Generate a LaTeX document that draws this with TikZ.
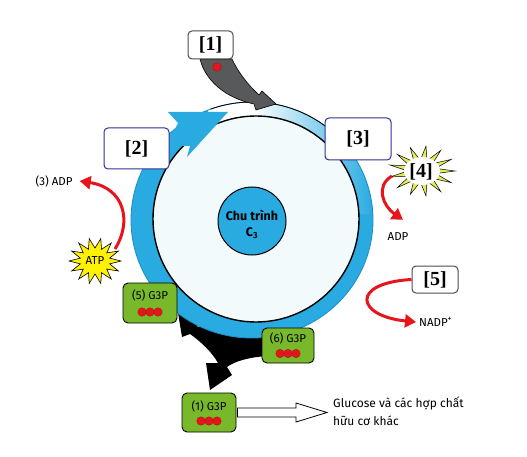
\documentclass[tikz,border=0pt]{standalone}
\usepackage{fontspec}
\setmainfont{Liberation Serif}
\newfontfamily\lblfont{Fira Sans}
\usetikzlibrary{arrows.meta,calc}
\definecolor{ringcyan}{HTML}{29ABE2}
\definecolor{ringedge}{HTML}{1C8CC4}
\definecolor{innerfill}{HTML}{F3FAFB}
\definecolor{gbox}{HTML}{78B82A}
\definecolor{rbord}{HTML}{2E3192}
\definecolor{arrred}{HTML}{E8141B}
\definecolor{grayarr}{HTML}{58595B}
\definecolor{staryel}{HTML}{FFF200}
\definecolor{starfour}{HTML}{E2EC5A}
\begin{document}
\begin{tikzpicture}[x=1pt,y=-1pt,
  lbl/.style={font=\lblfont\fontsize{11.5}{13}\selectfont, inner sep=0},
  numbox/.style={draw=#1, fill=white, rounded corners=4pt, line width=1pt, font=\bfseries\fontsize{20}{20}\selectfont, inner sep=0},
  g3p/.style={draw=black, fill=gbox, rounded corners=5pt, line width=0.9pt, inner sep=0},
  redarr/.style={draw=arrred, line width=3pt, -{Triangle[length=11pt, width=13pt]}},
  reddot/.style={circle, fill=arrred, draw=arrred!70!black, line width=0.3pt, minimum size=8.5pt, inner sep=0}
]
\useasboundingbox (0,0) rectangle (527,457);

% black product arrows (behind ring)
\fill[black] (282,333) -- (268,356) .. controls (250,357) and (235,361) .. (227,367) -- (232,375) -- (210,390) -- (206,363) -- (218,363) .. controls (212,352) and (200,341) .. (190,334) -- (182,337) -- (178,313) -- (200,323) -- (196,326) .. controls (225,334) and (255,334) .. (282,333) -- cycle;

% ring
\coordinate (O) at (252,220);
\coordinate (I) at (256,219);
\fill[ringcyan] (O) ellipse (121 and 118);
\begin{scope}
  \clip (O) -- ($(O)+(-112:180)$) -- ($(O)+(-90:180)$) -- ($(O)+(-45:180)$) -- ($(O)+(-3:180)$) -- cycle;
  \shade[left color=white, right color=ringcyan, middle color=white] (O) ellipse (121 and 118);
\end{scope}
\fill[innerfill] (I) circle (103);
\draw[ringedge, line width=0.8pt] (O) ellipse (121 and 118);
\draw[line width=0.8pt] ($(O)+(-110:121 and 118)$) arc[start angle=-110, end angle=-38, x radius=121, y radius=118];
\draw[line width=1.4pt] (I) circle (103);
\fill[ringcyan] (178,123) -- (168,112) -- (228,112) -- (187,157) -- (190,146) -- (180,146) -- (172,135) -- cycle;

% centre
\node[circle, draw, fill=ringcyan, line width=1pt, minimum size=68pt, inner sep=0] (core) at (252,221) {};
\node[font=\lblfont\bfseries\fontsize{12.5}{16}\selectfont, align=center, inner sep=0] (coretext) at (252,224) {Chu trình\\C\textsubscript{3}};

% CO2 input arrow [1]
\draw[fill=grayarr, line width=0.6pt] (200,59) .. controls (205,80) and (225,98) .. (254,104) -- (256,110) -- (276,104) -- (262,91) -- (259,95) .. controls (248,85) and (238,72) .. (232,59) -- cycle;
\node[reddot] (co2) at (217,67) {};

% number boxes
\node[numbox=gray!60!black, minimum width=45pt, minimum height=28pt] (b1) at (210.5,45) {[1]};
\node[numbox=rbord, minimum width=65pt, minimum height=41pt] (b2) at (136.5,148.5) {[2]};
\node[numbox=rbord, minimum width=66pt, minimum height=42pt] (b3) at (358,139) {[3]};
\node[numbox=gray!60!black, minimum width=46pt, minimum height=27pt] (b5) at (435,279.5) {[5]};

% star [4]
\coordinate (c4) at (422,171);
\draw[fill=starfour, line width=0.5pt] ($(c4)+(0:33 and 25)$) \foreach \i in {0,...,12} { -- ($(c4)+({\i*360/13+180/13}:14 and 11)$) -- ($(c4)+({(\i+1)*360/13}:33 and 25)$) } -- cycle;
\fill[white] (c4) ellipse (18 and 14);
\node[font=\bfseries\fontsize{20}{20}\selectfont, inner sep=0] (b4) at (421,172) {[4]};

% ATP star
\coordinate (catp) at (95,261);
\draw[fill=staryel, line width=0.6pt] ($(catp)+(0:26 and 23)$) \foreach \i in {0,...,13} { -- ($(catp)+({\i*360/14+180/14}:15 and 13)$) -- ($(catp)+({(\i+1)*360/14}:26 and 23)$) } -- cycle;
\node[lbl] (atp) at (catp) {ATP};

% G3P boxes
\node[g3p, minimum width=54pt, minimum height=40pt] (g5) at (150,303) {};
\node[lbl] (g5t) at ($(g5)+(0,-8)$) {(5) G3P};
\node[reddot] (g5a) at ($(g5)+(-8,9)$) {};
\node[reddot] (g5b) at ($(g5)+(0,9)$) {};
\node[reddot] (g5c) at ($(g5)+(8,9)$) {};

\node[g3p, minimum width=52pt, minimum height=35pt] (g6) at (288,345.5) {};
\node[lbl] (g6t) at ($(g6)+(0,-7.5)$) {(6) G3P};
\node[reddot] (g6a) at ($(g6)+(-8,8)$) {};
\node[reddot] (g6b) at ($(g6)+(0,8)$) {};
\node[reddot] (g6c) at ($(g6)+(8,8)$) {};

\node[g3p, minimum width=54pt, minimum height=39pt] (g1) at (209,412.5) {};
\node[lbl] (g1t) at ($(g1)+(0,-6.5)$) {(1) G3P};
\node[reddot] (g1a) at ($(g1)+(-8,8.5)$) {};
\node[reddot] (g1b) at ($(g1)+(0,8.5)$) {};
\node[reddot] (g1c) at ($(g1)+(8,8.5)$) {};

% labels
\node[lbl] (adp3) at (54,181) {(3) ADP};
\node[lbl] (adp4) at (398,237) {ADP};
\node[lbl, anchor=west] (nadp) at (419,322) {NADP\textsuperscript{+}};
\node[lbl, anchor=west, align=left, font=\lblfont\fontsize{12}{18}\selectfont] (gluc) at (333,411) {Glucose và các hợp chất\\hữu cơ khác};

% red arrows
\draw[redarr] (115,249) .. controls (132,222) and (125,188) .. ($(adp3.east)+(7,0)$);
\draw[redarr] (392,176) .. controls (375,186) and (383,206) .. ($(adp4.north)+(5,-13)$);
\draw[redarr] (b5.west) .. controls (350,283) and (356,316) .. ($(nadp.west)+(-3,0)$);

% output arrow
\draw[fill=white, line width=0.8pt] ($(g1.east)+(1,-4.5)$) -- (296,408) -- (296,403) -- ($(gluc.west)+(-6,1.5)$) -- (296,422) -- (296,417) -- ($(g1.east)+(1,4.5)$) -- cycle;
\end{tikzpicture}
\end{document}
